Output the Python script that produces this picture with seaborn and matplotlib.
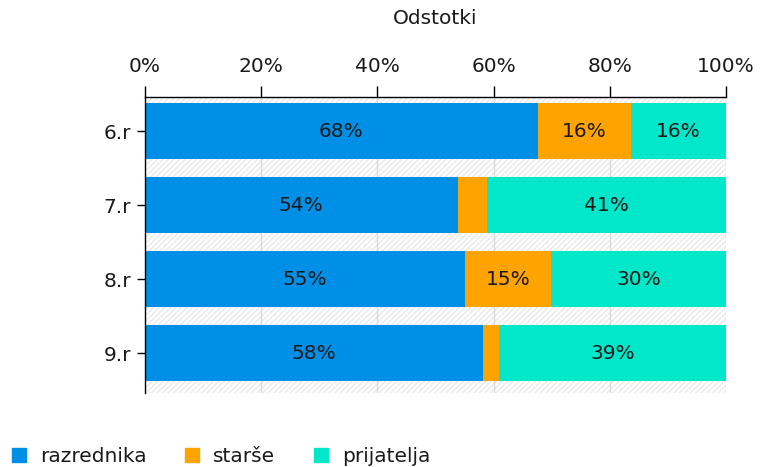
import matplotlib
matplotlib.use("Agg")
import matplotlib.pyplot as plt
from matplotlib.lines import Line2D
from matplotlib.patches import Rectangle
import seaborn as sns
import pandas as pd
import numpy as np

categories = ["6.r", "7.r", "8.r", "9.r"]
series_names = ["razrednika", "starše", "prijatelja"]
razrednika = [67.6, 53.8, 55.1, 58.2]
starse = [16.1, 5.1, 14.8, 2.7]
prijatelja = [16.3, 41.1, 30.1, 39.1]
tick_values = [0, 20, 40, 60, 80, 100]
tick_labels = ["0%", "20%", "40%", "60%", "80%", "100%"]
colors = ["#008fe6", "#ffa300", "#00e8c9"]

sns.set_theme(style="white")
plt.rcParams["font.family"] = ["DejaVu Sans"]
plt.rcParams["hatch.linewidth"] = 0.8

FS = 14.5
TXT = "#1a1a1a"

df = pd.DataFrame({"cat": categories, "a": razrednika, "b": starse, "c": prijatelja})
df["c1"] = df["a"]
df["c2"] = df["a"] + df["b"]
df["c3"] = df["a"] + df["b"] + df["c"]

fig = plt.figure(figsize=(7.6, 4.67), dpi=100)
ax = fig.add_axes([145 / 760, 1 - 393 / 467, (726 - 145) / 760, (393 - 97) / 467])

ax.add_patch(Rectangle((0, 0), 1, 1, transform=ax.transAxes, facecolor="white",
                       edgecolor="#e4e4e4", linewidth=0, hatch="//////", zorder=0))
for t in tick_values[1:]:
    ax.axvline(t, color="#d8d8d8", lw=1, zorder=0.5)

for col, color in zip(["c3", "c2", "c1"], colors[::-1]):
    sns.barplot(data=df, x=col, y="cat", orient="h", color=color, width=0.76,
                saturation=1, ax=ax, zorder=2, linewidth=0)

vals = [razrednika, starse, prijatelja]
for i in range(len(categories)):
    left = 0
    for s in range(3):
        v = vals[s][i]
        if v >= 10:
            ax.text(left + v / 2, i, f"{round(v)}%", ha="center", va="center",
                    fontsize=FS, color=TXT, zorder=3)
        left += v

ax.set_xlim(0, 100)
ax.set_ylim(3.54, -0.46)
ax.xaxis.tick_top()
ax.xaxis.set_label_position("top")
ax.set_xticks(tick_values)
ax.set_xticklabels(tick_labels, fontsize=FS, color=TXT)
ax.set_xlabel("Odstotki", fontsize=FS, color=TXT, labelpad=24)
ax.set_ylabel("")
ax.tick_params(axis="x", direction="out", length=8, width=1, color="black", pad=7, top=True, bottom=False)
ax.tick_params(axis="y", direction="out", length=6, width=1, color="black", pad=4, left=True, labelsize=FS, labelcolor=TXT)
for side in ["right", "bottom"]:
    ax.spines[side].set_visible(False)
ax.spines["top"].set_color("black")
ax.spines["top"].set_linewidth(1)
ax.spines["left"].set_color("black")
ax.spines["left"].set_linewidth(1)

handles = [Line2D([0], [0], marker="s", linestyle="none", markersize=9.5,
                  markerfacecolor=c, markeredgecolor=c) for c in colors]
fig.legend(handles, series_names, loc="lower left", bbox_to_anchor=(-0.012, -0.036),
           ncol=3, frameon=False, fontsize=FS, handletextpad=0.55, columnspacing=1.75,
           handlelength=1.0, labelcolor=TXT)

fig.savefig("out.png", dpi=100)
